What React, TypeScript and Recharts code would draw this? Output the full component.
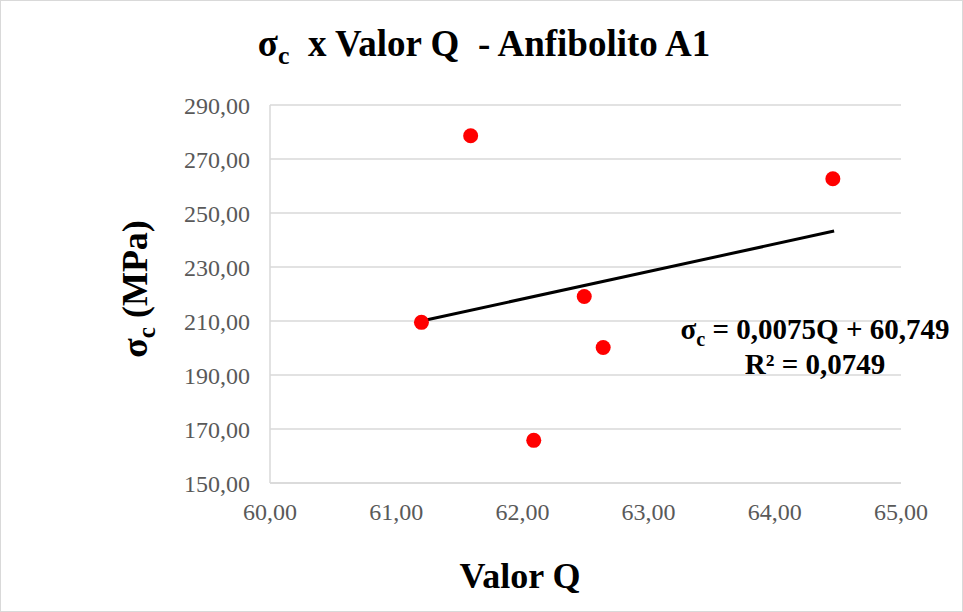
import {
  ScatterChart,
  Scatter,
  XAxis,
  YAxis,
  CartesianGrid,
} from 'recharts';

// valores
const valorQ = [61.2, 61.59, 62.09, 62.49, 62.64, 64.46];
const sigmaC = [209.5, 278.6, 165.8, 219.1, 200.2, 262.7];
const trendQ = [61.2, 64.47];
const trendSigma = [210.0, 243.3];
const xTicks = [60, 61, 62, 63, 64, 65];
const yTicks = [150, 170, 190, 210, 230, 250, 270, 290];

const fmt = (v: number) => v.toFixed(2).replace('.', ',');

const serif = '"Liberation Serif", "Times New Roman", serif';

export default function App() {
  const points = valorQ.map((q, i) => ({ x: q, y: sigmaC[i] }));
  const trend = trendQ.map((q, i) => ({ x: q, y: trendSigma[i] }));

  const tickStyle = { fontSize: 24, fontFamily: serif, fill: '#595959' };
  const axisStroke = { stroke: '#d9d9d9', strokeWidth: 1.5 };

  return (
    <div
      style={{
        position: 'absolute',
        left: 0,
        top: 0,
        width: 963,
        height: 612,
        background: '#fff',
        border: '1px solid #d9d9d9',
        boxSizing: 'border-box',
        fontFamily: serif,
      }}
    >
      <div style={{ position: 'absolute', left: -1, top: -1 }}>
        <ScatterChart
          width={963}
          height={612}
          margin={{ top: 105, right: 62, bottom: 0, left: 0 }}
        >
          <CartesianGrid vertical={false} stroke="#d9d9d9" strokeWidth={1.5} />
          <XAxis
            type="number"
            dataKey="x"
            domain={[60, 65]}
            ticks={xTicks}
            tickFormatter={fmt}
            height={129}
            tickLine={false}
            tickMargin={14}
            axisLine={axisStroke}
            tick={tickStyle}
            allowDataOverflow
          />
          <YAxis
            type="number"
            dataKey="y"
            domain={[150, 290]}
            ticks={yTicks}
            tickFormatter={fmt}
            width={270}
            tickLine={false}
            axisLine={axisStroke}
            tickMargin={14}
            tick={tickStyle}
            allowDataOverflow
          />
          <Scatter
            data={trend}
            line={{ stroke: '#000', strokeWidth: 3 }}
            shape={() => <g />}
            isAnimationActive={false}
          />
          <Scatter
            data={points}
            fill="#ff0000"
            shape={(p: any) => <circle cx={p.cx} cy={p.cy} r={7.5} fill="#ff0000" />}
            isAnimationActive={false}
          />
        </ScatterChart>
      </div>

      {/* título */}
      <div
        style={{
          position: 'absolute',
          left: 483,
          top: 46,
          transform: 'translate(-50%, -50%)',
          fontSize: 37,
          fontWeight: 'bold',
          whiteSpace: 'pre',
          lineHeight: 1,
        }}
      >
        σ<sub style={{ fontSize: '0.7em' }}>c</sub>{'  x Valor Q  - Anfibolito A1'}
      </div>

      {/* eje Y */}
      <div
        style={{
          position: 'absolute',
          left: 137,
          top: 288,
          transform: 'translate(-50%, -50%) rotate(-90deg)',
          fontSize: 36,
          fontWeight: 'bold',
          whiteSpace: 'pre',
          lineHeight: 1,
        }}
      >
        σ<sub style={{ fontSize: '0.7em' }}>c</sub>{' (MPa)'}
      </div>

      {/* eje X */}
      <div
        style={{
          position: 'absolute',
          left: 519,
          top: 575,
          transform: 'translate(-50%, -50%)',
          fontSize: 36,
          fontWeight: 'bold',
          whiteSpace: 'pre',
          lineHeight: 1,
        }}
      >
        Valor Q
      </div>

      {/* ecuación de la tendencia */}
      <div
        style={{
          position: 'absolute',
          left: 814,
          top: 346,
          transform: 'translate(-50%, -50%)',
          fontSize: 29,
          fontWeight: 'bold',
          whiteSpace: 'pre',
          lineHeight: '35px',
          textAlign: 'center',
        }}
      >
        <div>
          σ<sub style={{ fontSize: '0.7em', lineHeight: 0 }}>c</sub>{' = 0,0075Q + 60,749'}
        </div>
        <div>R² = 0,0749</div>
      </div>
    </div>
  );
}
